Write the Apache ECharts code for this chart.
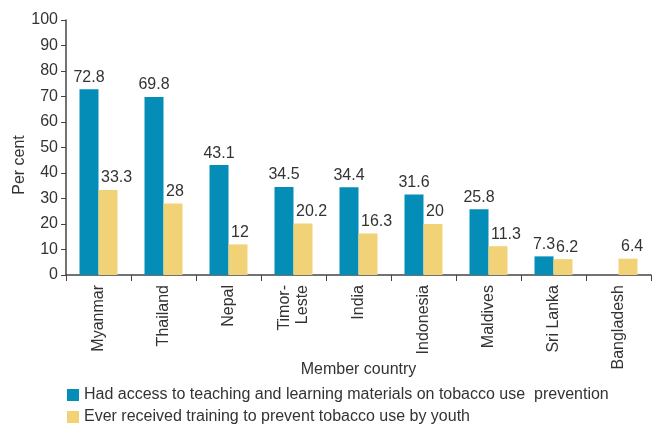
<!DOCTYPE html>
<html>
<head>
<meta charset="utf-8">
<script src="https://cdn.jsdelivr.net/npm/echarts@6/dist/echarts.min.js"></script>
<style>
  html, body { margin: 0; padding: 0; background: #fff; }
  #chart { width: 652px; height: 426px; }
</style>
</head>
<body>
<div id="chart"></div>
<script>
// Datos de la gráfica
const countries = ["Myanmar", "Thailand", "Nepal", "Timor-\nLeste", "India", "Indonesia", "Maldives", "Sri Lanka", "Bangladesh"];
const accessValues = [72.8, 69.8, 43.1, 34.5, 34.4, 31.6, 25.8, 7.3, null];
const trainingValues = [33.3, 28, 12, 20.2, 16.3, 20, 11.3, 6.2, 6.4];
const yTicks = [0, 10, 20, 30, 40, 50, 60, 70, 80, 90, 100];

const seriesNames = [
  "Had access to teaching and learning materials on tobacco use  prevention",
  "Ever received training to prevent tobacco use by youth",
];
const colors = ["#048db7", "#f2d277"];

const font = "Liberation Sans, Arial, sans-serif";
const textColor = "#333";

const chart = echarts.init(document.getElementById("chart"));

const barLabel = {
  show: true,
  position: "top",
  fontSize: 16,
  fontFamily: font,
  color: textColor,
  distance: 4,
};

// Una leyenda por serie para tenerlas en dos filas
function legendRow(name, top) {
  return {
    left: 62,
    top: top,
    itemWidth: 12,
    itemHeight: 12,
    icon: "rect",
    textStyle: { fontSize: 16, color: textColor, fontFamily: font },
    data: [name],
  };
}

const option = {
  animation: false,
  textStyle: { fontFamily: font },
  grid: { left: 66, right: 1, top: 20, bottom: 151 },
  legend: [legendRow(seriesNames[0], 382), legendRow(seriesNames[1], 404)],
  xAxis: {
    type: "category",
    data: countries,
    name: "Member country",
    nameLocation: "middle",
    nameGap: 87,
    nameMoveOverlap: false,
    nameTextStyle: { fontSize: 16, color: textColor, fontFamily: font },
    axisLine: { lineStyle: { color: "#444", width: 1.5 } },
    axisTick: { show: true, length: 6, lineStyle: { color: "#444" } },
    axisLabel: {
      rotate: 90,
      fontSize: 16,
      color: textColor,
      fontFamily: font,
      margin: 10,
      lineHeight: 18,
    },
  },
  yAxis: {
    type: "value",
    min: yTicks[0],
    max: yTicks[yTicks.length - 1],
    interval: 10,
    splitLine: { show: false },
    axisLine: { show: true, lineStyle: { color: "#444", width: 1.5 } },
    axisTick: { show: true, length: 5, lineStyle: { color: "#444" } },
    axisLabel: { fontSize: 16, color: textColor, fontFamily: font, margin: 8 },
  },
  graphic: [
    {
      type: "text",
      x: 20,
      y: 165,
      rotation: Math.PI / 2,
      style: {
        text: "Per cent",
        fontSize: 16,
        fontFamily: font,
        fill: textColor,
        align: "center",
        verticalAlign: "middle",
      },
    },
  ],
  series: [
    {
      name: seriesNames[0],
      type: "bar",
      data: accessValues,
      barWidth: 19,
      barGap: "0%",
      itemStyle: { color: colors[0] },
      label: barLabel,
    },
    {
      name: seriesNames[1],
      type: "bar",
      data: trainingValues,
      barWidth: 19,
      itemStyle: { color: colors[1] },
      // las etiquetas amarillas arrancan en el borde izquierdo de la barra
      label: Object.assign({}, barLabel, { align: "left", offset: [-7, 0] }),
    },
  ],
};

chart.setOption(option);
</script>
</body>
</html>
